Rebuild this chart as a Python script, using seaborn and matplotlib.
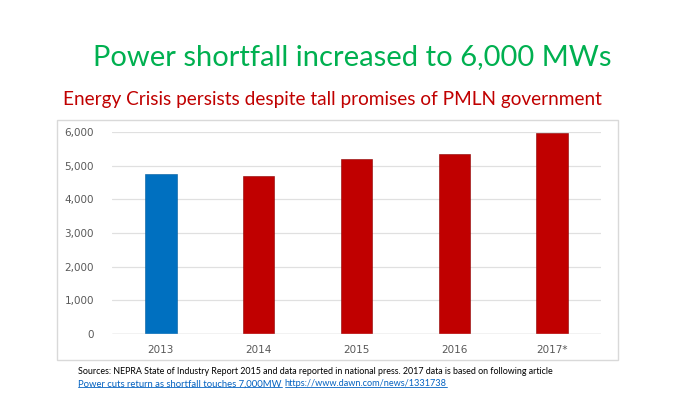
import matplotlib
matplotlib.use('Agg')
import matplotlib.pyplot as plt
import seaborn as sns
import pandas as pd
from matplotlib.patches import Rectangle

years = ['2013', '2014', '2015', '2016', '2017*']
shortfall_mw = [4750, 4700, 5190, 5350, 5980]
bar_colors = ['#0070C0', '#C00000', '#C00000', '#C00000', '#C00000']

title = 'Power shortfall increased to 6,000 MWs'
subtitle = 'Energy Crisis persists despite tall promises of PMLN government'
source_line = 'Sources: NEPRA State of Industry Report 2015 and data reported in national press. 2017 data is based on following article'
link_text = 'Power cuts return as shortfall touches 7,000MW'
link_url = 'https://www.dawn.com/news/1331738'

sns.set_style('white')
plt.rcParams['font.family'] = ['Lato', 'DejaVu Sans']

df = pd.DataFrame({'year': years, 'mw': shortfall_mw})

fig = plt.figure(figsize=(7, 4), dpi=100)
fig.patch.set_facecolor('white')

# chart frame like the pasted excel image
fig.patches.append(Rectangle((57 / 700, 1 - 360 / 400), (618 - 57) / 700, (360 - 120) / 400,
                             transform=fig.transFigure, fill=False, edgecolor='#d9d9d9', lw=1))

ax = fig.add_axes([112 / 700, 1 - 334 / 400, (601 - 112) / 700, (334 - 132) / 400])
sns.barplot(data=df, x='year', y='mw', hue='year', palette=bar_colors, legend=False,
            saturation=1, width=0.32, ax=ax, edgecolor='#8b0000', linewidth=0.4)
ax.patches[0].set_edgecolor('#005a9c')

ax.set_ylim(0, 6000)
ax.set_xlim(-0.5, 4.5)
ax.set_yticks(range(0, 6001, 1000))
ax.set_yticklabels([f'{v:,}' for v in range(0, 6001, 1000)])
ax.set_xticks(range(len(years)))
ax.set_xticklabels(years)
for lab in ax.get_xticklabels() + ax.get_yticklabels():
    lab.set_fontfamily('DejaVu Sans')
    lab.set_fontsize(7.5)
    lab.set_color('#595959')
ax.tick_params(axis='both', length=0, pad=8)
ax.tick_params(axis='y', pad=13)
ax.yaxis.grid(True, color='#e0e0e0', lw=0.9)
ax.set_axisbelow(True)
ax.set_xlabel('')
ax.set_ylabel('')
for s in ax.spines.values():
    s.set_visible(False)
ax.axhline(0, color='#d0d0d0', lw=1)

fig.text(352 / 700, 1 - 57 / 400, title, ha='center', va='center', fontsize=21, color='#00B050')
fig.text(63 / 700, 1 - 100 / 400, subtitle, ha='left', va='center', fontsize=13.7, color='#C00000')

fig.text(78 / 700, 1 - 371 / 400, source_line, ha='left', va='center', fontsize=6.4, color='black')
t1 = fig.text(78 / 700, 1 - 384 / 400, link_text, ha='left', va='center', fontsize=6.85, color='#0563C1')

fig.canvas.draw()
r = fig.canvas.get_renderer()
bb1 = t1.get_window_extent(r).transformed(fig.transFigure.inverted())
t2 = fig.text(bb1.x1 + 3 / 700, 1 - 384 / 400, link_url, ha='left', va='center', fontsize=6.6, color='#0563C1')
fig.canvas.draw()
for t in (t1, t2):
    bb = t.get_window_extent(r).transformed(fig.transFigure.inverted())
    fig.add_artist(plt.Line2D([bb.x0, bb.x1], [bb.y0 + 0.003, bb.y0 + 0.003],
                              transform=fig.transFigure, color='#0563C1', lw=0.6))

fig.savefig('out.png', dpi=100, facecolor='white')
